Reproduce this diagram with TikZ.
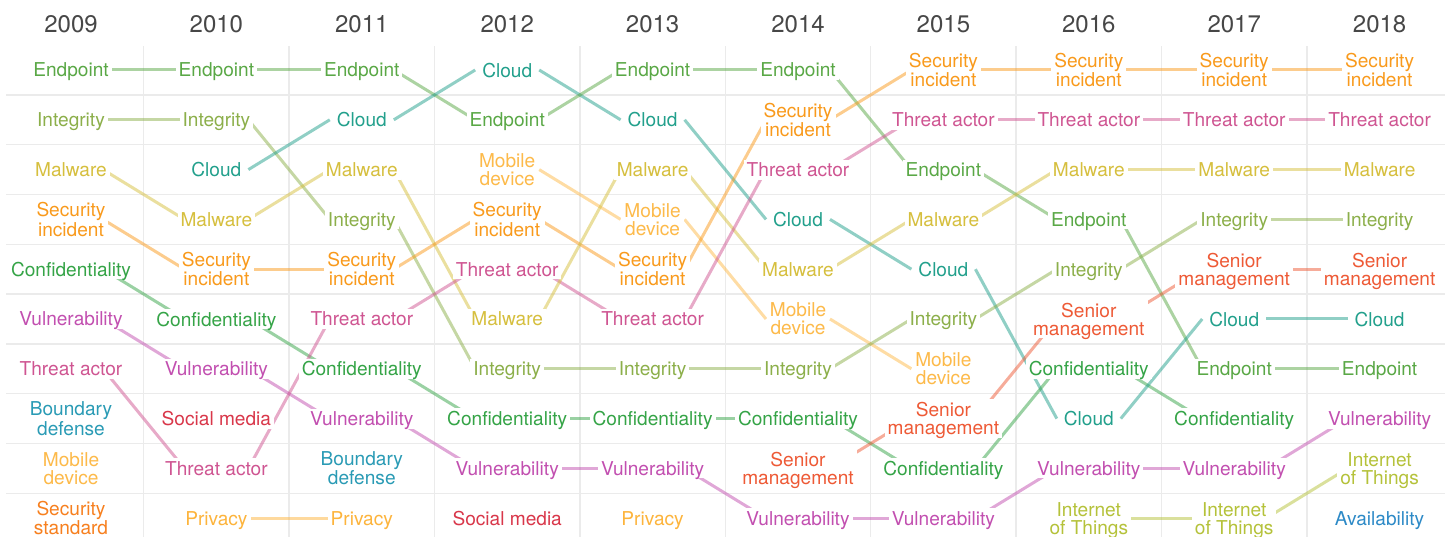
\documentclass[tikz,border=0pt]{standalone}
\usepackage{fontspec}
\setmainfont{TeX Gyre Heros}
\usetikzlibrary{calc}
\pgfdeclarelayer{bg}
\pgfsetlayers{bg,main}

% one colour per term
\definecolor{endpoint}{HTML}{5AA846}
\definecolor{integrity}{HTML}{8CAF4A}
\definecolor{malware}{HTML}{D6BF3E}
\definecolor{incident}{HTML}{F99A1C}
\definecolor{confid}{HTML}{35A447}
\definecolor{vulner}{HTML}{C24FB0}
\definecolor{threat}{HTML}{CF5592}
\definecolor{boundary}{HTML}{2A9BB5}
\definecolor{mobile}{HTML}{FDBA4A}
\definecolor{standard}{HTML}{F7801F}
\definecolor{cloud}{HTML}{22A08C}
\definecolor{social}{HTML}{D9374A}
\definecolor{privacy}{HTML}{FDB43C}
\definecolor{senior}{HTML}{EE5A36}
\definecolor{iot}{HTML}{B5C23A}
\definecolor{avail}{HTML}{2D8AC7}

\begin{document}
\begin{tikzpicture}[
    x=1pt, y=-1pt,
    year/.style={text=black!72, font=\fontsize{24}{24}\selectfont},
    term/.style={fill=white, inner xsep=3pt, inner ysep=3pt, text depth=0pt, align=center, font=\fontsize{19.1}{18}\selectfont},
    link/.style={line width=3pt, draw opacity=0.5},
    gridline/.style={draw=black!8, line width=1.3pt}
]
\useasboundingbox (0,0) rectangle (1449,537);

% years
\foreach \yr [count=\i from 0] in {2009,...,2018}
  \node[year] (y\yr) at ({71+145.4*\i}, 24) {\yr};

% 2009
\foreach \row/\key/\txt in {1/endpoint/Endpoint, 2/integrity/Integrity, 3/malware/Malware, 4/incident/{Security\\incident}, 5/confid/Confidentiality, 6/vulner/Vulnerability, 7/threat/Threat actor, 8/boundary/{Boundary\\defense}, 9/mobile/{Mobile\\device}, 10/standard/{Security\\standard}}
  \node[term, text=\key] (\key09) at (71, {20.2+49.8*\row}) {\txt};
% 2010
\foreach \row/\key/\txt in {1/endpoint/Endpoint, 2/integrity/Integrity, 3/cloud/Cloud, 4/malware/Malware, 5/incident/{Security\\incident}, 6/confid/Confidentiality, 7/vulner/Vulnerability, 8/social/Social media, 9/threat/Threat actor, 10/privacy/Privacy}
  \node[term, text=\key] (\key10) at (216.4, {20.2+49.8*\row}) {\txt};
% 2011
\foreach \row/\key/\txt in {1/endpoint/Endpoint, 2/cloud/Cloud, 3/malware/Malware, 4/integrity/Integrity, 5/incident/{Security\\incident}, 6/threat/Threat actor, 7/confid/Confidentiality, 8/vulner/Vulnerability, 9/boundary/{Boundary\\defense}, 10/privacy/Privacy}
  \node[term, text=\key] (\key11) at (361.8, {20.2+49.8*\row}) {\txt};
% 2012
\foreach \row/\key/\txt in {1/cloud/Cloud, 2/endpoint/Endpoint, 3/mobile/{Mobile\\device}, 4/incident/{Security\\incident}, 5/threat/Threat actor, 6/malware/Malware, 7/integrity/Integrity, 8/confid/Confidentiality, 9/vulner/Vulnerability, 10/social/Social media}
  \node[term, text=\key] (\key12) at (507.2, {20.2+49.8*\row}) {\txt};
% 2013
\foreach \row/\key/\txt in {1/endpoint/Endpoint, 2/cloud/Cloud, 3/malware/Malware, 4/mobile/{Mobile\\device}, 5/incident/{Security\\incident}, 6/threat/Threat actor, 7/integrity/Integrity, 8/confid/Confidentiality, 9/vulner/Vulnerability, 10/privacy/Privacy}
  \node[term, text=\key] (\key13) at (652.6, {20.2+49.8*\row}) {\txt};
% 2014
\foreach \row/\key/\txt in {1/endpoint/Endpoint, 2/incident/{Security\\incident}, 3/threat/Threat actor, 4/cloud/Cloud, 5/malware/Malware, 6/mobile/{Mobile\\device}, 7/integrity/Integrity, 8/confid/Confidentiality, 9/senior/{Senior\\management}, 10/vulner/Vulnerability}
  \node[term, text=\key] (\key14) at (798, {20.2+49.8*\row}) {\txt};
% 2015
\foreach \row/\key/\txt in {1/incident/{Security\\incident}, 2/threat/Threat actor, 3/endpoint/Endpoint, 4/malware/Malware, 5/cloud/Cloud, 6/integrity/Integrity, 7/mobile/{Mobile\\device}, 8/senior/{Senior\\management}, 9/confid/Confidentiality, 10/vulner/Vulnerability}
  \node[term, text=\key] (\key15) at (943.4, {20.2+49.8*\row}) {\txt};
% 2016
\foreach \row/\key/\txt in {1/incident/{Security\\incident}, 2/threat/Threat actor, 3/malware/Malware, 4/endpoint/Endpoint, 5/integrity/Integrity, 6/senior/{Senior\\management}, 7/confid/Confidentiality, 8/cloud/Cloud, 9/vulner/Vulnerability, 10/iot/{Internet\\of Things}}
  \node[term, text=\key] (\key16) at (1088.8, {20.2+49.8*\row}) {\txt};
% 2017
\foreach \row/\key/\txt in {1/incident/{Security\\incident}, 2/threat/Threat actor, 3/malware/Malware, 4/integrity/Integrity, 5/senior/{Senior\\management}, 6/cloud/Cloud, 7/endpoint/Endpoint, 8/confid/Confidentiality, 9/vulner/Vulnerability, 10/iot/{Internet\\of Things}}
  \node[term, text=\key] (\key17) at (1234.2, {20.2+49.8*\row}) {\txt};
% 2018
\foreach \row/\key/\txt in {1/incident/{Security\\incident}, 2/threat/Threat actor, 3/malware/Malware, 4/integrity/Integrity, 5/senior/{Senior\\management}, 6/cloud/Cloud, 7/endpoint/Endpoint, 8/vulner/Vulnerability, 9/iot/{Internet\\of Things}, 10/avail/Availability}
  \node[term, text=\key] (\key18) at (1379.6, {20.2+49.8*\row}) {\txt};

\begin{pgfonlayer}{bg}
% grid
\foreach \i in {0,...,8} {
  \draw[gridline] ({143.7+145.4*\i}, 46) -- ({143.7+145.4*\i}, 537);
  \draw[gridline] (6, {94.9+49.8*\i}) -- (1445, {94.9+49.8*\i});
}
% a term kept from one year to the next
\foreach \a/\b/\keys in {
    09/10/{endpoint,integrity,malware,incident,confid,vulner,threat},
    10/11/{endpoint,integrity,cloud,malware,incident,confid,vulner,threat,privacy},
    11/12/{endpoint,cloud,malware,integrity,incident,threat,confid,vulner},
    12/13/{cloud,endpoint,mobile,incident,threat,malware,integrity,confid,vulner},
    13/14/{endpoint,cloud,malware,mobile,incident,threat,integrity,confid,vulner},
    14/15/{endpoint,incident,threat,cloud,malware,mobile,integrity,confid,senior,vulner},
    15/16/{incident,threat,endpoint,malware,cloud,integrity,senior,confid,vulner},
    16/17/{incident,threat,malware,endpoint,integrity,senior,confid,cloud,vulner,iot},
    17/18/{incident,threat,malware,integrity,senior,cloud,endpoint,vulner,iot}}
  \foreach \key in \keys
    \draw[link, draw=\key] ($(\key\a.center)+(32,0)$) -- ($(\key\b.center)+(-32,0)$);
\end{pgfonlayer}
\end{tikzpicture}
\end{document}
